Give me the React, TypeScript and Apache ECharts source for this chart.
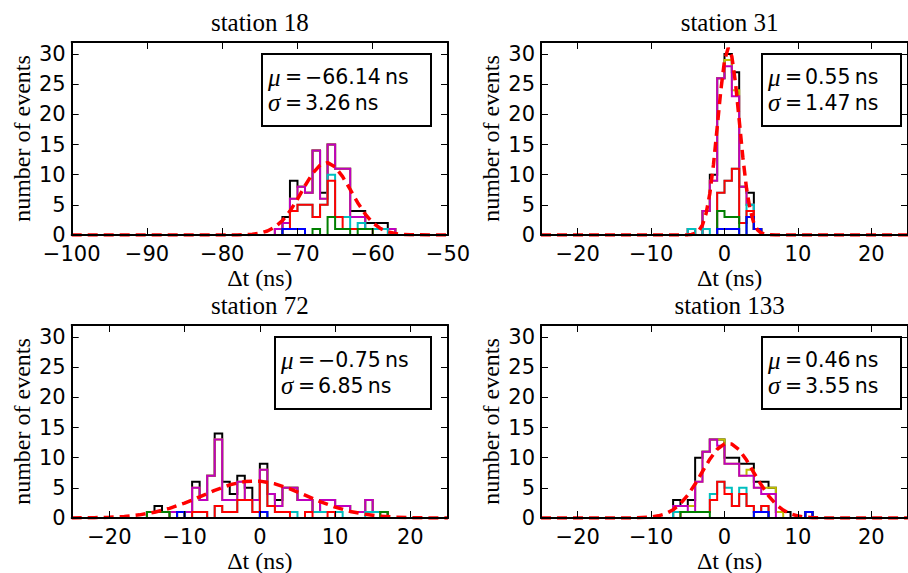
import React, { useEffect, useRef } from 'react';
import * as echarts from 'echarts';

// ---------- colours (matplotlib classic cycle) ----------
const C_BLUE = '#0000ff';
const C_GREEN = '#008000';
const C_RED = '#ff0000';
const C_CYAN = '#00bfbf';
const C_MAGENTA = '#bf00bf';
const C_YELLOW = '#bfbf00';
const C_BLACK = '#000000';

// ---------- data: cumulative (stacked) step-histogram levels, 1 ns bins ----------
// station 18, bins starting at -73 ns
const st18Start = -73;
const st18Blue = [0, 1, 1, 1, 0, 0, 0, 0, 0, 0, 0, 0, 0, 0, 0, 0];
const st18Green = [0, 1, 1, 1, 0, 1, 0, 3, 1, 1, 0, 1, 1, 0, 0, 0];
const st18Red = [0, 1, 4, 5, 5, 3, 5, 9, 3, 1, 1, 1, 1, 0, 0, 0];
const st18Cyan = [0, 1, 4, 5, 5, 3, 5, 10, 3, 3, 1, 2, 1, 1, 1, 0];
const st18Magenta = [1, 2, 6, 8, 7, 14, 6, 15, 11, 11, 3, 3, 1, 1, 1, 1];
const st18Yellow = [1, 2, 6, 8, 7, 14, 6, 15, 11, 11, 3, 3, 1, 1, 1, 1];
const st18Black = [1, 3, 9, 8, 7, 14, 7, 15, 11, 11, 4, 4, 2, 2, 2, 1];
const st18FitX = [-100, -78, -77, -76, -75, -74, -73, -72, -71, -70, -69, -68, -67, -66, -65, -64, -63, -62, -61, -60, -59, -58, -57, -56, -55, -50];
const st18FitY = [0, 0.02, 0.05, 0.12, 0.3, 0.66, 1.31, 2.39, 3.95, 5.95, 8.17, 10.2, 11.59, 12.0, 11.29, 9.67, 7.55, 5.36, 3.46, 2.04, 1.09, 0.53, 0.24, 0.09, 0.03, 0];

// station 31, bins starting at -5 ns
const st31Start = -5;
const st31Blue = [0, 0, 0, 0, 1, 1, 1, 0, 3, 1];
const st31Green = [0, 0, 0, 0, 4, 3, 3, 0, 3, 1];
const st31Red = [0, 0, 0, 0, 7, 9, 11, 2, 4, 1];
const st31Cyan = [1, 0, 1, 0, 7, 9, 11, 2, 5, 1];
const st31Magenta = [1, 0, 4, 9, 26, 28, 23, 8, 5, 1];
const st31Yellow = [1, 0, 4, 9, 26, 29, 24, 8, 5, 1];
const st31Black = [1, 0, 4, 10, 26, 30, 27, 8, 7, 1];
const st31FitX = [-25, -6, -5, -4.5, -4, -3.5, -3, -2.5, -2, -1.5, -1, -0.5, 0, 0.5, 1, 1.5, 2, 2.5, 3, 3.5, 4, 4.5, 5, 6, 7, 25];
const st31FitY = [0, 0, 0.02, 0.08, 0.26, 0.7, 1.68, 3.6, 6.88, 11.7, 17.8, 24.0, 28.9, 31.0, 29.6, 25.2, 19.1, 12.9, 7.73, 4.13, 1.97, 0.84, 0.32, 0.03, 0, 0];

// station 72, bins starting at -15 ns
const st72Start = -15;
const st72Blue = [0, 0, 0, 0, 1, 0, 0, 0, 0, 0, 0, 0, 0, 0, 0, 1, 0, 0, 0, 0, 0, 0, 0, 0, 0, 0, 0, 0, 0, 0, 0, 0];
const st72Green = [1, 1, 1, 0, 1, 0, 0, 0, 0, 0, 0, 0, 0, 0, 0, 1, 0, 0, 0, 0, 0, 0, 0, 0, 0, 0, 0, 0, 0, 0, 0, 1];
const st72Red = [1, 1, 1, 0, 1, 0, 1, 1, 0, 2, 1, 1, 3, 3, 1, 6, 2, 1, 1, 0, 0, 1, 0, 0, 1, 0, 0, 0, 0, 0, 0, 1];
const st72Cyan = [1, 1, 1, 0, 1, 0, 1, 1, 0, 2, 1, 1, 3, 3, 1, 6, 2, 1, 1, 1, 0, 1, 1, 1, 1, 1, 0, 0, 0, 1, 1, 1];
const st72Magenta = [1, 1, 1, 1, 1, 1, 5, 3, 7, 13, 3, 3, 6, 3, 3, 8, 4, 2, 5, 5, 3, 3, 1, 3, 3, 2, 2, 1, 1, 3, 1, 1];
const st72Yellow = [1, 1, 1, 1, 1, 1, 5, 3, 7, 13, 3, 3, 6, 3, 3, 8, 4, 2, 5, 5, 3, 3, 1, 3, 3, 2, 2, 1, 1, 3, 1, 1];
const st72Black = [1, 2, 1, 1, 1, 1, 6, 3, 7, 14, 6, 4, 7, 5, 3, 9, 4, 3, 5, 5, 3, 3, 1, 3, 3, 2, 2, 1, 1, 3, 1, 1];
const st72FitX = [-25, -22, -20, -18, -16, -14, -12, -10, -8, -6, -4, -2, 0, 2, 4, 6, 8, 10, 12, 14, 16, 18, 20, 22, 25];
const st72FitY = [0.01, 0.05, 0.12, 0.26, 0.52, 0.95, 1.6, 2.47, 3.51, 4.58, 5.5, 6.05, 6.11, 5.67, 4.84, 3.79, 2.72, 1.8, 1.09, 0.61, 0.31, 0.15, 0.06, 0.02, 0];

// station 133, bins starting at -7 ns
const st133Start = -7;
const st133Blue = [0, 0, 0, 0, 0, 0, 0, 0, 0, 0, 0, 1, 1, 0, 0, 0, 0, 0, 1];
const st133Green = [0, 1, 1, 1, 1, 0, 0, 0, 0, 0, 0, 1, 1, 0, 0, 0, 0, 0, 1];
const st133Red = [0, 1, 1, 1, 1, 3, 6, 4, 2, 4, 2, 1, 2, 0, 0, 0, 0, 0, 1];
const st133Cyan = [1, 1, 1, 1, 1, 4, 6, 5, 2, 5, 2, 1, 2, 0, 0, 0, 0, 0, 1];
const st133Magenta = [2, 2, 1, 6, 11, 13, 12, 9, 9, 7, 7, 5, 4, 4, 0, 0, 0, 0, 1];
const st133Yellow = [2, 2, 2, 6, 11, 13, 13, 9, 9, 7, 8, 5, 5, 5, 1, 0, 0, 0, 1];
const st133Black = [3, 2, 3, 10, 11, 13, 13, 10, 10, 9, 9, 6, 6, 5, 1, 1, 0, 0, 1];
const st133FitX = [-25, -14, -12, -10, -9, -8, -7, -6, -5, -4, -3, -2, -1, 0, 1, 2, 3, 4, 5, 6, 7, 8, 9, 10, 11, 12, 14, 25];
const st133FitY = [0, 0, 0.03, 0.16, 0.36, 0.72, 1.36, 2.37, 3.8, 5.63, 7.71, 9.75, 11.4, 12.3, 12.25, 11.3, 9.6, 7.5, 5.5, 3.67, 2.27, 1.3, 0.69, 0.34, 0.15, 0.06, 0.01, 0];

// ticks
const yTickValues = [0, 5, 10, 15, 20, 25, 30];
const st18XTicks = [-100, -90, -80, -70, -60, -50];
const wideXTicks = [-20, -10, 0, 10, 20];

// fit parameters shown in the boxes
const muTexts = ['\u221266.14', '0.55', '\u22120.75', '0.46'];
const sigmaTexts = ['3.26', '1.47', '6.85', '3.55'];
const titles = ['station 18', 'station 31', 'station 72', 'station 133'];

// ---------- layout ----------
const SANS = "'DejaVu Sans', 'Liberation Sans', sans-serif";
const SERIF = "'Liberation Serif', 'DejaVu Serif', serif";

const GRIDS = [
  { left: 71.7, top: 42, width: 376.3, height: 193 },
  { left: 541, top: 42, width: 377.3, height: 193 },
  { left: 71.7, top: 325, width: 376.3, height: 193 },
  { left: 541, top: 325, width: 377.3, height: 193 },
];
const BOXES = [
  { x: 262, w: 169 },
  { x: 762, w: 139 },
  { x: 275, w: 156 },
  { x: 762, w: 139 },
];

function stepOutline(start: number, levels: number[]) {
  const pts: number[][] = [[start, 0]];
  levels.forEach((v, k) => {
    pts.push([start + k, v]);
    pts.push([start + k + 1, v]);
  });
  pts.push([start + levels.length, 0]);
  return pts;
}

const fmt = (v: number) => (v < 0 ? '\u2212' + Math.abs(v) : String(v));

export default function App() {
  const ref = useRef<HTMLDivElement>(null);

  useEffect(() => {
    document.body.style.margin = '0';
    const chart = echarts.init(ref.current!, null, { renderer: 'svg' });

    const panels = [
      { start: st18Start, lv: [st18Black, st18Yellow, st18Magenta, st18Cyan, st18Red, st18Green, st18Blue], fx: st18FitX, fy: st18FitY, min: -100, max: -50, ticks: st18XTicks },
      { start: st31Start, lv: [st31Black, st31Yellow, st31Magenta, st31Cyan, st31Red, st31Green, st31Blue], fx: st31FitX, fy: st31FitY, min: -25, max: 25, ticks: wideXTicks },
      { start: st72Start, lv: [st72Black, st72Yellow, st72Magenta, st72Cyan, st72Red, st72Green, st72Blue], fx: st72FitX, fy: st72FitY, min: -25, max: 25, ticks: wideXTicks },
      { start: st133Start, lv: [st133Black, st133Yellow, st133Magenta, st133Cyan, st133Red, st133Green, st133Blue], fx: st133FitX, fy: st133FitY, min: -25, max: 25, ticks: wideXTicks },
    ];
    const drawColors = [C_BLACK, C_YELLOW, C_MAGENTA, C_CYAN, C_RED, C_GREEN, C_BLUE];

    const axisLine = { show: true, onZero: false, lineStyle: { color: '#000', width: 2 } };
    const grid: any[] = [];
    const xAxis: any[] = [];
    const yAxis: any[] = [];
    const series: any[] = [];
    const graphic: any[] = [];

    panels.forEach((p, i) => {
      const g = GRIDS[i];
      grid.push({ left: g.left, top: g.top, width: g.width, height: g.height, containLabel: false });
      const tickX = { show: true, inside: true, length: 7, customValues: p.ticks, lineStyle: { color: '#000', width: 1 } };
      const tickY = { show: true, inside: true, length: 7, customValues: yTickValues, lineStyle: { color: '#000', width: 1 } };
      xAxis.push({
        type: 'value', gridIndex: i, min: p.min, max: p.max, position: 'bottom', z: 10,
        axisLine, axisTick: tickX,
        axisLabel: { show: true, customValues: p.ticks, color: '#000', fontFamily: SANS, fontSize: 21, lineHeight: 17, margin: 10, formatter: fmt, showMinLabel: true, showMaxLabel: true },
        splitLine: { show: false },
      });
      xAxis.push({
        type: 'value', gridIndex: i, min: p.min, max: p.max, position: 'top', z: 10,
        axisLine, axisTick: tickX, axisLabel: { show: false }, splitLine: { show: false },
      });
      yAxis.push({
        type: 'value', gridIndex: i, min: 0, max: 32, position: 'left', z: 10,
        axisLine, axisTick: tickY,
        axisLabel: { show: true, customValues: yTickValues, color: '#000', fontFamily: SANS, fontSize: 21, lineHeight: 17, margin: 6, showMinLabel: true },
        splitLine: { show: false },
      });
      yAxis.push({
        type: 'value', gridIndex: i, min: 0, max: 32, position: 'right', z: 10,
        axisLine, axisTick: tickY, axisLabel: { show: false }, splitLine: { show: false },
      });

      p.lv.forEach((levels, k) => {
        series.push({
          type: 'line', xAxisIndex: 2 * i, yAxisIndex: 2 * i,
          data: stepOutline(p.start, levels),
          showSymbol: false, symbol: 'none', silent: true,
          lineStyle: { color: drawColors[k], width: 2, join: 'miter' },
          emphasis: { disabled: true },
          z: 2,
        });
      });
      series.push({
        type: 'line', xAxisIndex: 2 * i, yAxisIndex: 2 * i,
        data: p.fx.map((x, k) => [x, p.fy[k]]),
        showSymbol: false, symbol: 'none', silent: true,
        lineStyle: { color: C_RED, width: 3.5, type: [10, 6] },
        emphasis: { disabled: true },
        z: 3,
      });

      const cx = g.left + g.width / 2;
      const cy = g.top + g.height / 2;
      // title
      graphic.push({ type: 'text', x: cx, y: g.top - 20, z: 100,
        style: { text: titles[i], fill: '#000', fontFamily: SERIF, fontSize: 25, align: 'center', verticalAlign: 'middle', textAlign: 'center', textVerticalAlign: 'middle' } });
      // x label
      graphic.push({ type: 'text', x: cx, y: g.top + g.height + 43, z: 100,
        style: { text: '\u0394t (ns)', fill: '#000', fontFamily: SERIF, fontSize: 24, align: 'center', verticalAlign: 'middle', textAlign: 'center', textVerticalAlign: 'middle' } });
      // y label
      graphic.push({ type: 'text', x: g.left - 50, y: cy, rotation: Math.PI / 2, z: 100,
        style: { text: 'number of events', fill: '#000', fontFamily: SERIF, fontSize: 24, align: 'center', verticalAlign: 'middle', textAlign: 'center', textVerticalAlign: 'middle' } });
      // fit box
      const b = BOXES[i];
      const by = g.top + 12;
      graphic.push({ type: 'rect', z: 100, shape: { x: b.x, y: by, width: b.w, height: 72 }, style: { fill: '#fff', stroke: '#000', lineWidth: 2 } });
      const rows = [
        { sym: '\u03bc', val: muTexts[i], y: by + 23 },
        { sym: '\u03c3', val: sigmaTexts[i], y: by + 48.5 },
      ];
      rows.forEach((r) => {
        graphic.push({ type: 'text', x: b.x + 6, y: r.y, z: 101,
          style: { text: r.sym, fill: '#000', fontFamily: SERIF, fontStyle: 'italic', fontSize: 25, align: 'left', verticalAlign: 'middle', textAlign: 'left', textVerticalAlign: 'middle' } });
        graphic.push({ type: 'text', x: b.x + 23, y: r.y, z: 101,
          style: { text: '=', fill: '#000', fontFamily: SANS, fontSize: 20.5, align: 'left', verticalAlign: 'middle', textAlign: 'left', textVerticalAlign: 'middle' } });
        graphic.push({ type: 'text', x: b.x + 43, y: r.y, z: 101,
          style: { text: r.val + '\u2009ns', fill: '#000', fontFamily: SANS, fontSize: 20.5, align: 'left', verticalAlign: 'middle', textAlign: 'left', textVerticalAlign: 'middle' } });
      });
    });

    chart.setOption({
      animation: false,
      backgroundColor: '#ffffff',
      grid, xAxis, yAxis, series, graphic,
    });
    return () => chart.dispose();
  }, []);

  return <div ref={ref} style={{ width: 908, height: 573 }} />;
}
